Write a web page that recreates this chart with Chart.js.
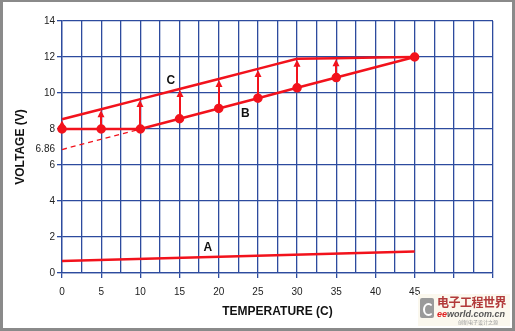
<!DOCTYPE html>
<html>
<head>
<meta charset="utf-8">
<script src="https://cdn.jsdelivr.net/npm/chart.js@4.4.1/dist/chart.umd.min.js"></script>
<style>
  html, body { margin: 0; padding: 0; background: #fff; }
  #frame {
    position: relative;
    width: 515px; height: 331px;
    box-sizing: border-box;
    border: 3px solid #8a8a8a;
    border-top-width: 2px;
    background: #fff;
  }
  #chart { position: absolute; left: -3px; top: -2px; }
  #logo {
    position: absolute; right: 2px; bottom: 2px;
    width: 92px; height: 32px;
    background: #fbf8ee;
    font-family: "Noto Sans CJK SC", sans-serif;
  }
  #logo .icon {
    position: absolute; left: 2px; top: 4px; width: 14px; height: 20px;
    background: #9a9a9a; border-radius: 2px;
  }
  #logo .icon::after {
    content: ""; position: absolute; left: 3px; top: 5px; width: 7px; height: 9px;
    border: 2px solid #fff; border-right-color: transparent; border-radius: 50%;
  }
  #logo .cn { position: absolute; left: 19px; top: 1px; font-size: 12px; font-weight: bold; color: #b23a3a; letter-spacing: -0.5px; line-height: 14px; }
  #logo .en { position: absolute; left: 19px; top: 15px; font-family: "Liberation Sans", sans-serif; font-size: 9px; font-style: italic; font-weight: bold; color: #555; line-height: 10px; }
  #logo .en b { color: #e02020; }
  #logo .sub { position: absolute; left: 40px; top: 25px; font-size: 5px; color: #999; line-height: 6px; }
</style>
</head>
<body>
<div id="frame">
  <canvas id="chart" width="515" height="331"></canvas>
  <div id="logo">
    <div class="icon"></div>
    <div class="cn">电子工程世界</div>
    <div class="en"><b>ee</b>world.com.cn</div>
    <div class="sub">创新电子设计之源</div>
  </div>
</div>
<script>
// temperature axis (C) and voltage readings (V)
const temps = [0, 5, 10, 15, 20, 25, 30, 35, 40, 45];
const curveATemps = [0, 45];
const curveA = [0.67, 1.2];
const curveBTemps = [0, 5, 10, 15, 20, 25, 30, 35, 45];
const curveB = [8, 8, 8, 8.57, 9.14, 9.71, 10.29, 10.86, 12];
const curveC = [8.54, 9.1, 9.66, 10.22, 10.78, 11.34, 11.9, 11.93, 11.97, 12];
const extTemps = [0, 10];
const extVolts = [6.86, 8];
const arrowTemps = [0, 5, 10, 15, 20, 25, 30, 35];
const yTicks = [0, 2, 4, 6, 8, 10, 12, 14];
const xTickLabels = [0, 5, 10, 15, 20, 25, 30, 35, 40, 45];
const curveNames = ['A', 'B', 'C'];
const nameTemps = [18.6, 23.4, 13.9];
const nameVolts = [1.4, 8.87, 10.67];

const RED = '#f2121c';
const GRID = '#2d4b9e';
const FONT = '"Liberation Sans", Arial, sans-serif';

const pts = (xs, ys) => xs.map((x, i) => ({ x, y: ys[i] }));
const cAt = (t) => curveC[temps.indexOf(t)];
const bAt = (t) => curveB[curveBTemps.indexOf(t)];

const datasets = [
  { data: pts(curveATemps, curveA), borderColor: RED, borderWidth: 2.5, pointRadius: 0 },
  { data: pts(extTemps, extVolts), borderColor: RED, borderWidth: 1.3, borderDash: [5, 4], pointRadius: 0 },
  { data: pts(temps, curveC), borderColor: RED, borderWidth: 2.5, pointRadius: 0 },
  { data: pts(curveBTemps, curveB), borderColor: RED, borderWidth: 2.5, pointRadius: 3.5,
    pointBackgroundColor: RED, pointBorderColor: RED },
];
datasets.forEach((d) => { d.clip = false; d.tension = 0; d.fill = false; });

// vertical B -> C arrows plus the curve letters
const extras = {
  id: 'extras',
  afterDatasetsDraw(chart) {
    const { ctx, scales: { x, y } } = chart;
    ctx.save();
    ctx.strokeStyle = RED;
    ctx.fillStyle = RED;
    ctx.lineWidth = 2;
    ctx.lineCap = 'butt';
    arrowTemps.forEach((t) => {
      const px = Math.round(x.getPixelForValue(t));
      const bottom = y.getPixelForValue(bAt(t));
      const tip = y.getPixelForValue(cAt(t)) + 1;
      ctx.beginPath();
      ctx.moveTo(px, bottom);
      ctx.lineTo(px, tip + 4);
      ctx.stroke();
      ctx.beginPath();
      ctx.moveTo(px, tip);
      ctx.lineTo(px - 3.5, tip + 7);
      ctx.lineTo(px + 3.5, tip + 7);
      ctx.closePath();
      ctx.fill();
    });
    ctx.fillStyle = '#111';
    ctx.font = 'bold 12px ' + FONT;
    ctx.textAlign = 'center';
    ctx.textBaseline = 'middle';
    curveNames.forEach((n, i) => {
      ctx.fillText(n, x.getPixelForValue(nameTemps[i]), y.getPixelForValue(nameVolts[i]));
    });
    ctx.restore();
  }
};

new Chart(document.getElementById('chart'), {
  type: 'line',
  data: { datasets },
  options: {
    responsive: false,
    animation: false,
    layout: { padding: { left: 3, top: 21, right: 22, bottom: 3 } },
    plugins: { legend: { display: false }, tooltip: { enabled: false } },
    scales: {
      x: {
        type: 'linear', min: 0, max: 55,
        afterFit: (s) => { s.height = 55; },
        ticks: {
          stepSize: 2.5, autoSkip: false, maxRotation: 0, padding: 8,
          color: '#222', font: { family: FONT, size: 10 },
          callback: (v) => (xTickLabels.includes(v) ? String(v) : ''),
        },
        grid: {
          color: GRID, lineWidth: 1.3, tickLength: 5,
          tickColor: (c) => (c.tick && c.tick.value % 5 === 0 ? GRID : 'rgba(0,0,0,0)'),
        },
        border: { color: GRID, width: 1.3 },
        title: { display: true, text: 'TEMPERATURE (C)', color: '#111',
          font: { family: FONT, size: 12, weight: 'bold' }, padding: { top: 0, bottom: 9 } },
      },
      y: {
        type: 'linear', min: 0, max: 14,
        afterFit: (s) => { s.width = 59; },
        afterBuildTicks: (s) => {
          s.ticks = yTicks.concat([extVolts[0]]).map((v) => ({ value: v }));
        },
        ticks: {
          padding: 2, color: '#222', font: { family: FONT, size: 10 },
          callback: (v) => String(v),
        },
        grid: {
          lineWidth: 1.3, tickLength: 5,
          color: (c) => (c.tick && c.tick.value === extVolts[0] ? 'rgba(0,0,0,0)' : GRID),
          tickColor: (c) => (c.tick && c.tick.value === extVolts[0] ? 'rgba(0,0,0,0)' : GRID),
        },
        border: { color: GRID, width: 1.3 },
        title: { display: true, text: 'VOLTAGE (V)', color: '#111',
          font: { family: FONT, size: 12, weight: 'bold' }, padding: { top: 10, bottom: 0 } },
      },
    },
  },
  plugins: [extras],
});
</script>
</body>
</html>
